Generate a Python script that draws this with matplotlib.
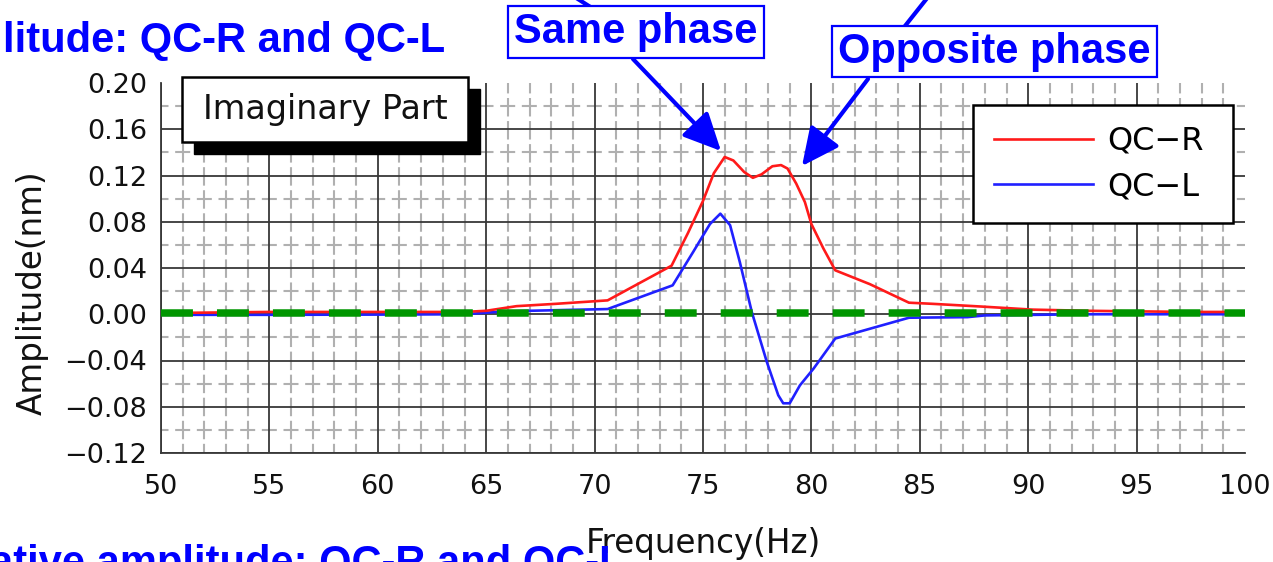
"""
Imaginary part of QC-R / QC-L amplitude vs frequency
Output: out.png
"""
import matplotlib
matplotlib.use("Agg")
import matplotlib.pyplot as plt
from matplotlib.patches import FancyArrowPatch, Rectangle
from matplotlib.lines import Line2D

plt.rcParams["font.family"] = ["DejaVu Sans"]
plt.rcParams["lines.scale_dashes"] = False

# Data
freq_r = [50, 55, 60, 64, 65, 66.4, 68.2, 70.6, 73.55, 74.3, 75.0, 75.5, 76.0, 76.4,
          76.9, 77.3, 77.7, 78.2, 78.6, 78.9, 79.3, 79.7, 80.0, 80.55, 81.1, 82.7,
          84.5, 85.6, 87.8, 90.2, 92.7, 95, 97.5, 100]
amp_r = [0.001, 0.002, 0.002, 0.002, 0.003, 0.007, 0.009, 0.012, 0.042, 0.070, 0.098,
         0.122, 0.136, 0.133, 0.123, 0.118, 0.121, 0.128, 0.129, 0.126, 0.113, 0.097,
         0.078, 0.057, 0.038, 0.026, 0.010, 0.009, 0.0067, 0.004, 0.003, 0.0025,
         0.002, 0.002]

freq_l = [50, 55, 60, 64, 65.5, 67, 70.6, 73.6, 74.55, 75.32, 75.8, 76.25, 76.7, 77.25,
          77.94, 78.47, 78.7, 79.0, 79.47, 80.1, 81.1, 84.5, 87.2, 88.0, 92.7, 100]
amp_l = [-0.0005, -0.0005, -0.0003, 0.0, 0.002, 0.003, 0.0045, 0.025, 0.054, 0.078,
         0.087, 0.077, 0.045, 0.002, -0.041, -0.070, -0.077, -0.077, -0.0615, -0.047,
         -0.021, -0.003, -0.0025, -0.001, 0.0, 0.0]

x_ticks = [50, 55, 60, 65, 70, 75, 80, 85, 90, 95, 100]
y_ticks = [-0.12, -0.08, -0.04, 0.00, 0.04, 0.08, 0.12, 0.16, 0.20]
x_minor = [x for x in range(51, 100) if x % 5 != 0]
y_minor = [-0.10, -0.06, -0.02, 0.02, 0.06, 0.10, 0.14, 0.18]
zero_level = 0.0015

W, H = 1273, 562
def fx(x):
    return x / W
def fy(y):
    return 1 - y / H

fig = plt.figure(figsize=(12.73, 5.62), dpi=100)
ax = fig.add_axes([161 / W, 1 - 453 / H, (1245 - 161) / W, (453 - 83) / H])
ax.set_xlim(50, 100)
ax.set_ylim(-0.12, 0.20)

# grid (hand drawn so the 0.20 / 100 lines stay off like the original)
for x in x_minor:
    ax.axvline(x, color="#b0b0b0", lw=1.5, ls=(6.7, (13.3, 3.3)), zorder=1)
for y in y_minor:
    ax.axhline(y, color="#b0b0b0", lw=1.5, ls=(5.4, (10.8, 4.8)), zorder=1)
for x in x_ticks[:-1]:
    ax.axvline(x, color="#383838", lw=1.3, zorder=1.5)
for y in y_ticks[:-1]:
    ax.axhline(y, color="#383838", lw=1.3, zorder=1.5)

for s in ["top", "right"]:
    ax.spines[s].set_visible(False)
for s in ["left", "bottom"]:
    ax.spines[s].set_color("#383838")
    ax.spines[s].set_linewidth(1.3)

ax.plot(freq_l, amp_l, color="#2020ff", lw=1.9, label="QC\u2212L", zorder=3)
ax.plot(freq_r, amp_r, color="#ff1a1a", lw=1.9, label="QC\u2212R", zorder=3.1)
ax.axhline(zero_level, color="#009600", lw=5.4, ls=(0, (23, 17.3)), zorder=4)

ax.set_xticks(x_ticks)
ax.set_xticklabels([str(v) for v in x_ticks])
ax.set_yticks(y_ticks)
ax.set_yticklabels([f"{v:.2f}".replace("-", "\u2212") for v in y_ticks])
ax.tick_params(length=0, labelsize=19.5, labelcolor="#111111")
ax.tick_params(axis="y", pad=10)
ax.tick_params(axis="x", pad=15)

ax.set_xlabel("Frequency(Hz)", fontsize=23.5, color="#111111")
ax.xaxis.set_label_coords(0.5, -0.2)
ax.set_ylabel("Amplitude(nm)", fontsize=23.5, color="#111111")
ax.yaxis.set_label_coords(-0.104, 0.432)

# legend, order QC-R then QC-L
h, l = ax.get_legend_handles_labels()
leg = ax.legend(h[::-1], l[::-1], loc="upper left",
                bbox_to_anchor=(0.749, 0.624, 0.2399, 0.3165), mode="expand",
                borderaxespad=0, fontsize=23, frameon=True, fancybox=False,
                edgecolor="black", framealpha=1, handlelength=3.1, handletextpad=0.45,
                borderpad=0.65, labelspacing=0.45)
leg.get_frame().set_linewidth(1.8)
leg.set_zorder(6)

# "Imaginary Part" box with drop shadow
bx0, by0 = (182 - 161) / 1084, (453 - 142) / 370
bw, bh = (468 - 182) / 1084, (142 - 77) / 370
sh = Rectangle((bx0 + 12 / 1084, by0 - 12 / 370), bw, bh, transform=ax.transAxes,
               fc="black", ec="black", clip_on=False, zorder=6)
bx = Rectangle((bx0, by0), bw, bh, transform=ax.transAxes,
               fc="white", ec="black", lw=1.8, clip_on=False, zorder=6.1)
ax.add_patch(sh)
ax.add_patch(bx)
ax.text(bx0 + bw / 2, by0 + bh / 2, "Imaginary Part", transform=ax.transAxes,
        ha="center", va="center", fontsize=24, color="#111111", zorder=6.2)

# blue slide annotations around the chart
blue = "#0000ff"
bold = dict(family="Liberation Sans", weight="bold", color=blue, fontsize=30)
fig.text(fx(3), fy(52), "litude: QC-R and QC-L", ha="left", va="baseline", **bold)
fig.text(fx(624), fy(575), "ative amplitude: QC-R and QC-L", ha="right",
         va="baseline", **bold)

fig.add_artist(Line2D([fx(570), fx(592)], [fy(-6), fy(8)], color=blue, lw=3, zorder=7))
fig.add_artist(Line2D([fx(905), fx(928)], [fy(26), fy(-3)], color=blue, lw=3, zorder=7))

box = dict(boxstyle="square,pad=0.14", fc="white", ec=blue, lw=1.6)
fig.text(fx(636), fy(32), "Same phase", ha="center", va="center", bbox=box,
         zorder=8, **bold)
fig.text(fx(994.5), fy(51.5), "Opposite phase", ha="center", va="center", bbox=box,
         zorder=8, **bold)

for start, end in [((633, 59), (721, 151)), ((868, 79), (802, 166))]:
    arr = FancyArrowPatch((fx(start[0]), fy(start[1])), (fx(end[0]), fy(end[1])),
                          transform=fig.transFigure, arrowstyle="-|>,head_length=1.15,head_width=0.55",
                          mutation_scale=20, lw=3, color=blue, shrinkA=0, shrinkB=0, zorder=7)
    fig.add_artist(arr)

fig.savefig("out.png", dpi=100)
